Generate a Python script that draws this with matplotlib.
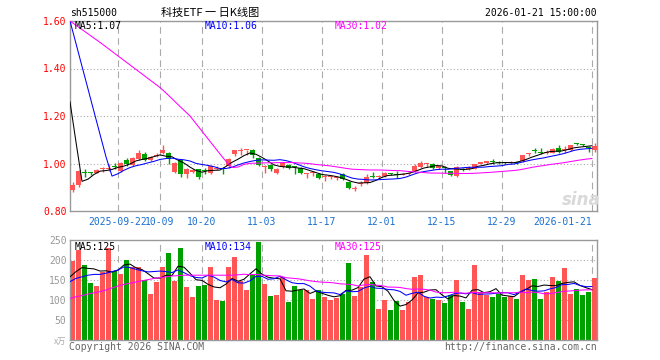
import matplotlib
matplotlib.use("Agg")
import matplotlib.pyplot as plt
import pandas as pd

# daily candles of sh515000, index 0 = 2025-09-10 ... index 87 = 2026-01-21
opens = [0.887, 0.908, 0.962, 0.962, 0.962, 0.975, 0.977, 0.990, 0.970, 1.015,
         0.995, 1.020, 1.040, 1.015, 1.030, 1.045, 1.045, 0.965, 1.013, 0.954,
         0.965, 0.975, 0.972, 0.961, 0.978, 0.982, 0.989, 1.042, 1.052, 1.055,
         1.055, 1.024, 0.987, 0.993, 0.958, 0.985, 0.992, 0.987, 0.982, 0.957,
         0.960, 0.957, 0.942, 0.943, 0.939, 0.954, 0.922, 0.894, 0.915, 0.919,
         0.944, 0.942, 0.947, 0.958, 0.955, 0.953, 0.956, 0.968, 0.986, 0.998,
         0.999, 0.983, 0.983, 0.967, 0.947, 0.976, 0.978, 0.977, 1.000, 1.004,
         1.008, 1.004, 1.003, 1.002, 1.004, 1.010, 1.038, 1.054, 1.048, 1.045,
         1.046, 1.065, 1.055, 1.056, 1.085, 1.081, 1.067, 1.055]
highs = [0.921, 0.972, 0.975, 0.966, 0.978, 0.986, 0.999, 1.003, 1.006, 1.025,
         1.028, 1.055, 1.048, 1.032, 1.045, 1.080, 1.048, 1.005, 1.017, 0.982,
         0.978, 0.978, 0.982, 0.993, 0.990, 0.985, 1.024, 1.056, 1.067, 1.058,
         1.059, 1.027, 0.993, 0.998, 0.982, 1.006, 0.999, 0.990, 0.986, 0.962,
         0.968, 0.961, 0.951, 0.952, 0.947, 0.958, 0.926, 0.905, 0.925, 0.954,
         0.965, 0.952, 0.965, 0.962, 0.968, 0.960, 0.962, 0.999, 1.010, 1.001,
         1.003, 0.993, 0.988, 0.970, 0.989, 0.980, 0.988, 1.000, 1.006, 1.012,
         1.020, 1.010, 1.008, 1.012, 1.008, 1.036, 1.046, 1.065, 1.065, 1.055,
         1.066, 1.078, 1.072, 1.078, 1.088, 1.083, 1.072, 1.085]
lows = [0.882, 0.900, 0.944, 0.953, 0.958, 0.963, 0.968, 0.975, 0.965, 0.990,
        0.990, 1.015, 1.010, 1.012, 1.028, 1.042, 1.000, 0.962, 0.945, 0.938,
        0.960, 0.933, 0.957, 0.957, 0.972, 0.957, 0.982, 1.030, 1.034, 1.034,
        1.025, 0.989, 0.961, 0.970, 0.954, 0.980, 0.975, 0.954, 0.957, 0.937,
        0.947, 0.933, 0.926, 0.935, 0.930, 0.930, 0.891, 0.884, 0.905, 0.912,
        0.940, 0.937, 0.943, 0.953, 0.940, 0.950, 0.951, 0.965, 0.982, 0.985,
        0.975, 0.975, 0.962, 0.946, 0.943, 0.968, 0.972, 0.975, 0.996, 1.000,
        0.998, 0.998, 0.997, 0.999, 0.998, 1.008, 1.032, 1.045, 1.040, 1.040,
        1.044, 1.046, 1.045, 1.054, 1.078, 1.072, 1.050, 1.050]
closes = [0.908, 0.968, 0.961, 0.960, 0.972, 0.978, 0.980, 0.985, 1.003, 1.000,
          1.022, 1.045, 1.015, 1.028, 1.035, 1.058, 1.017, 1.003, 0.957, 0.975,
          0.972, 0.945, 0.968, 0.989, 0.982, 0.978, 1.021, 1.055, 1.055, 1.057,
          1.034, 0.993, 0.990, 0.978, 0.975, 1.003, 0.982, 0.985, 0.961, 0.960,
          0.963, 0.940, 0.945, 0.946, 0.941, 0.936, 0.898, 0.897, 0.918, 0.944,
          0.942, 0.944, 0.961, 0.957, 0.953, 0.955, 0.958, 0.989, 1.003, 1.000,
          0.979, 0.986, 0.981, 0.953, 0.986, 0.974, 0.982, 0.997, 1.002, 1.007,
          1.006, 1.002, 1.001, 1.005, 1.002, 1.034, 1.042, 1.052, 1.046, 1.048,
          1.063, 1.050, 1.058, 1.076, 1.083, 1.079, 1.064, 1.072]
# volume in 万
volumes = [198, 226, 187, 143, 135, 171, 229, 172, 166, 200,
           182, 182, 150, 115, 145, 182, 217, 147, 231, 133,
           107, 136, 138, 182, 100, 97, 182, 208, 147, 125,
           165, 245, 140, 110, 112, 158, 95, 135, 125, 125,
           102, 125, 107, 100, 106, 115, 192, 110, 132, 212,
           145, 77, 100, 75, 97, 75, 96, 157, 163, 107,
           102, 100, 92, 112, 150, 95, 77, 188, 120, 112,
           107, 115, 107, 110, 102, 163, 150, 152, 102, 120,
           157, 148, 180, 115, 127, 112, 120, 156]

# MA values shown before the window is full
ma5_head = [1.26, 1.09, 0.925, 0.934]
ma10_head = [1.60, 1.505, 1.409, 1.314, 1.218, 1.123, 1.028, 0.947, 0.957]
ma30_head = [1.60, 1.582, 1.564, 1.546, 1.528, 1.51, 1.491, 1.472, 1.453, 1.434,
             1.415, 1.396, 1.377, 1.358, 1.339, 1.32, 1.297, 1.273, 1.248, 1.224,
             1.20, 1.168, 1.136, 1.104, 1.072, 1.04, 1.009, 0.983, 0.985]
vma5_head = [158, 171, 181, 179]
vma10_head = [146, 154, 158, 162, 164, 164, 167, 171, 175]
vma30_head = [104, 108, 111, 115, 118, 121, 125, 130, 135, 139,
              142, 145, 148, 151, 154, 156, 158, 160, 161, 162,
              162, 162, 162, 162, 162, 162, 162, 162, 163]

date_ticks = [8, 15, 22, 32, 42, 52, 62, 72, 87]
date_labels = ["2025-09-22", "10-09", "10-20", "11-03", "11-17",
               "12-01", "12-15", "12-29", "2026-01-21"]
price_ticks = [0.80, 1.00, 1.20, 1.40, 1.60]
vol_ticks = [50, 100, 150, 200, 250]

UP = "#ff5555"
DOWN = "#00a000"
GRID = "#aaaaaa"
MONO = "DejaVu Sans Mono"


def moving(values, n, head):
    s = pd.Series(values, dtype=float).rolling(n).mean()
    s.iloc[:len(head)] = head
    return s.values


n = len(closes)
xs = list(range(n))
colors = [UP if c >= o else DOWN for o, c in zip(opens, closes)]

fig = plt.figure(figsize=(6.6, 3.6), dpi=100)
W, H = 660, 360
axp = fig.add_axes([70 / W, 1 - 211 / H, 527 / W, 190 / H])
axv = fig.add_axes([70 / W, 1 - 340 / H, 527 / W, 100 / H])

off = 0.42  # candle centre relative to its slot start
for ax in (axp, axv):
    ax.set_xlim(0, 527 / 6)
    for s in ax.spines.values():
        s.set_color("#999999")
        s.set_linewidth(1)
    for t in date_ticks:
        ax.axvline(t, color=GRID, lw=0.8, ls=(0, (6, 4)), zorder=0)
    ax.tick_params(length=0)

# price panel
axp.set_ylim(0.80, 1.60)
for v in price_ticks[1:-1]:
    axp.axhline(v, color=GRID, lw=0.8, ls=(0, (1, 2)), zorder=0)
axp.vlines([x + off for x in xs], lows, highs, colors=colors, lw=1, zorder=2)
bottoms = [min(o, c) for o, c in zip(opens, closes)]
heights = [max(abs(c - o), 0.0045) for o, c in zip(opens, closes)]
axp.bar([x + off for x in xs], heights, bottom=bottoms, width=0.76,
        color=colors, linewidth=0, zorder=3)
axp.plot(xs, moving(closes, 5, ma5_head), color="black", lw=0.75, zorder=4)
axp.plot(xs, moving(closes, 10, ma10_head), color="#0000ff", lw=0.75, zorder=4)
axp.plot(xs, moving(closes, 30, ma30_head), color="#ff00ff", lw=0.75, zorder=4)
axp.set_yticks(price_ticks)
axp.set_yticklabels([f"{v:.2f}" for v in price_ticks], family=MONO,
                    fontsize=7, color="red")
axp.tick_params(axis="y", pad=2.5)
axp.set_xticks(date_ticks)
axp.set_xticklabels(date_labels, family=MONO, fontsize=7, color="#1a6fd0")
axp.tick_params(axis="x", pad=4)
axp.get_xticklabels()[-1].set_ha("right")

# volume panel
axv.set_ylim(0, 250)
for v in vol_ticks[:-1]:
    axv.axhline(v, color=GRID, lw=0.8, ls=(0, (1, 2)), zorder=0)
axv.bar([x + off for x in xs], volumes, width=0.8, color=colors,
        linewidth=0, zorder=2)
axv.plot(xs, moving(volumes, 5, vma5_head), color="black", lw=0.75, zorder=4)
axv.plot(xs, moving(volumes, 10, vma10_head), color="#0000ff", lw=0.75, zorder=4)
axv.plot(xs, moving(volumes, 30, vma30_head), color="#ff00ff", lw=0.75, zorder=4)
axv.set_yticks(vol_ticks)
axv.set_yticklabels([str(v) for v in vol_ticks], family=MONO, fontsize=7,
                    color="#999999")
axv.tick_params(axis="y", pad=2.5)
axv.set_xticks([])

# texts
def ftext(px, py, s, **kw):
    fig.text(px / W, 1 - py / H, s, va="center", **kw)

ftext(70, 13, "sh515000", family=MONO, fontsize=7)
ftext(210, 13, "科技ETF 一 日K线图", family=["Noto Sans CJK SC", "DejaVu Sans"],
      fontsize=8, ha="center")
ftext(597, 13, "2026-01-21 15:00:00", family=MONO, fontsize=7, ha="right")
ftext(75, 26, "MA5:1.07", family=MONO, fontsize=7, color="black")
ftext(205, 26, "MA10:1.06", family=MONO, fontsize=7, color="#0000ff")
ftext(335, 26, "MA30:1.02", family=MONO, fontsize=7, color="#ff00ff")
ftext(75, 247, "MA5:125", family=MONO, fontsize=7, color="black")
ftext(205, 247, "MA10:134", family=MONO, fontsize=7, color="#0000ff")
ftext(335, 247, "MA30:125", family=MONO, fontsize=7, color="#ff00ff")
ftext(66, 341, "x万", family=["Noto Sans CJK SC", "DejaVu Sans"], fontsize=6,
      ha="right", color="#aaaaaa")
ftext(69, 347, "Copyright 2026 SINA.COM", family=MONO, fontsize=7,
      color="#666666")
ftext(597, 347, "http://finance.sina.com.cn", family=MONO, fontsize=7,
      ha="right", color="#666666")
ftext(581, 200, "sina", family="DejaVu Sans", fontsize=12, weight="bold",
      style="italic", ha="center", color="#d9d9d9")

fig.savefig("out.png", dpi=100)
